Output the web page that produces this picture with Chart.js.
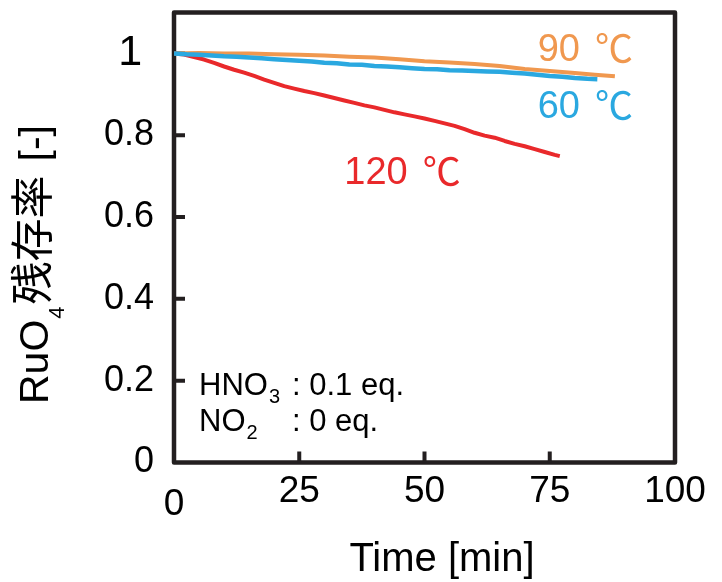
<!DOCTYPE html>
<html><head><meta charset="utf-8">
<script src="https://cdn.jsdelivr.net/npm/chart.js@4.4.0/dist/chart.umd.min.js"></script>
<style>html,body{margin:0;padding:0;background:#fff}</style>
</head><body>
<canvas id="c" width="722" height="582"></canvas>
<script>
// ---- data ----
const time120 = [0,2,4,6,8,10,12,14,16,18,20,22,24,26,28,30,32,34,36,38,40,42,44,46,48,50,52,54,56,58,60,62,64,66,68,70,72,74,76,77];
const ratio120 = [1.000,0.997,0.991,0.985,0.977,0.968,0.960,0.953,0.945,0.936,0.928,0.920,0.914,0.908,0.903,0.897,0.891,0.885,0.879,0.873,0.868,0.862,0.856,0.851,0.846,0.841,0.835,0.829,0.823,0.815,0.806,0.799,0.794,0.786,0.779,0.773,0.766,0.759,0.752,0.749];
const time90 = [0,5,10,15,20,25,30,35,40,45,50,55,60,65,70,75,80,84,88];
const ratio90 = [1.000,1.001,1.000,1.000,0.998,0.997,0.995,0.992,0.990,0.986,0.981,0.978,0.974,0.969,0.962,0.957,0.952,0.948,0.944];
const time60 = [0,2.5,5,7.5,10,12.5,15,17.5,20,22.5,25,27.5,30,32.5,35,37.5,40,42.5,45,47.5,50,52.5,55,57.5,60,62.5,65,67.5,70,72.5,75,77.5,80,82.5,84.5];
const ratio60 = [1.000,0.998,0.997,0.995,0.993,0.992,0.990,0.988,0.986,0.984,0.982,0.980,0.977,0.976,0.973,0.972,0.969,0.968,0.966,0.964,0.962,0.961,0.959,0.958,0.957,0.956,0.955,0.953,0.951,0.948,0.945,0.943,0.940,0.938,0.937];
const xTickValues = [0,25,50,75,100];
const yTickValues = [0,0.2,0.4,0.6,0.8,1];
const seriesNames = ['120','90','60'];
const unitText = '℃';
const xTitle = 'Time [min]';
const yTitleParts = ['RuO','4','残存率','[-]'];
const noteLines = [['HNO','3',': 0.1 eq.'],['NO','2',': 0 eq.']];
// ---- styles ----
const FONT = "'Liberation Sans', Arial, 'Noto Sans CJK JP', sans-serif";
const CJK = "'Noto Sans CJK JP', sans-serif";
const INK = '#231f20';
const RED = '#e9292b', ORANGE = '#f0984f', BLUE = '#2aa8e0';

function pts(xs, ys){ return xs.map((x,i)=>({x, y: ys[i]})); }

function tempLabel(ctx, name, color, px, py){
  ctx.fillStyle = color;
  ctx.font = `38px ${FONT}`;
  ctx.fillText(name, px, py);
  const w = ctx.measureText(name).width;
  ctx.font = `38px ${CJK}`;
  ctx.fillText(unitText, px + w + 15, py + 1);
}

const decor = {
  id: 'decor',
  beforeDatasetsDraw(chart){
    const {ctx, chartArea:a, scales:{x,y}} = chart;
    ctx.save();
    ctx.strokeStyle = INK; ctx.lineWidth = 4.5; ctx.lineJoin = 'round';
    ctx.strokeRect(a.left, a.top, a.right - a.left, a.bottom - a.top);
    ctx.lineWidth = 4;
    ctx.beginPath();
    yTickValues.forEach(v => { if (v > 0) { const p = y.getPixelForValue(v); ctx.moveTo(a.left, p); ctx.lineTo(a.left + 11, p); } });
    xTickValues.forEach(v => { if (v > 0 && v < 100) { const p = x.getPixelForValue(v); ctx.moveTo(p, a.bottom); ctx.lineTo(p, a.bottom - 11); } });
    ctx.stroke();
    ctx.restore();
  },
  afterDraw(chart){
    const {ctx, scales:{x,y}} = chart;
    ctx.save();
    ctx.textBaseline = 'alphabetic'; ctx.textAlign = 'left';
    // series labels
    tempLabel(ctx, seriesNames[1], ORANGE, x.getPixelForValue(72.6), y.getPixelForValue(0.982));
    tempLabel(ctx, seriesNames[2], BLUE, x.getPixelForValue(72.6), y.getPixelForValue(0.843));
    tempLabel(ctx, seriesNames[0], RED, x.getPixelForValue(34), y.getPixelForValue(0.680));
    // x axis title
    ctx.fillStyle = '#000';
    ctx.font = `40px ${FONT}`; ctx.textAlign = 'center';
    ctx.fillText(xTitle, 442, 571);
    ctx.textAlign = 'left';
    // note text
    const bases = [395, 431];
    noteLines.forEach((ln, i) => {
      let cx = 199;
      ctx.font = `31px ${FONT}`; ctx.fillText(ln[0], cx, bases[i]); cx += ctx.measureText(ln[0]).width;
      ctx.font = `20px ${FONT}`; ctx.fillText(ln[1], cx + 1, bases[i] + 8);
      ctx.font = `31px ${FONT}`; ctx.fillText(ln[2], 292, bases[i]);
    });
    // y axis title (rotated, with subscript)
    ctx.translate(48, 404);
    ctx.rotate(-Math.PI/2);
    let px = 0;
    ctx.font = `41px ${FONT}`; ctx.fillText(yTitleParts[0], px, 0); px += ctx.measureText(yTitleParts[0]).width;
    ctx.font = `22px ${FONT}`; ctx.fillText(yTitleParts[1], px + 1, 16); px += ctx.measureText(yTitleParts[1]).width + 3;
    ctx.font = `43px ${CJK}`; ctx.fillText(yTitleParts[2], px, 0); px += ctx.measureText(yTitleParts[2]).width + 14;
    ctx.font = `41px ${FONT}`; ctx.fillText(yTitleParts[3], px, 0);
    ctx.restore();
  }
};

new Chart(document.getElementById('c'), {
  type: 'line',
  data: {
    datasets: [
      {label: '60', data: pts(time60, ratio60), borderColor: BLUE, borderWidth: 4.5},
      {label: '90', data: pts(time90, ratio90), borderColor: ORANGE, borderWidth: 4},
      {label: '120', data: pts(time120, ratio120), borderColor: RED, borderWidth: 4}
    ]
  },
  options: {
    responsive: false,
    animation: false,
    devicePixelRatio: 1,
    elements: {point: {radius: 0}, line: {tension: 0, borderCapStyle: 'butt', borderJoinStyle: 'round'}},
    plugins: {legend: {display: false}, tooltip: {enabled: false}},
    layout: {padding: {left: 0, top: 12.5, right: 47, bottom: 0}},
    scales: {
      x: {
        type: 'linear', min: 0, max: 100,
        afterBuildTicks: s => { s.ticks = xTickValues.map(v => ({value: v})); },
        afterFit: s => { s.height = 119.5; s.paddingLeft = 0; s.paddingRight = 0; },
        grid: {display: false, drawTicks: false},
        border: {display: false},
        ticks: {
          autoSkip: false, maxRotation: 0, padding: 7, color: '#000',
          font: c => (c.tick && c.tick.value === 0) ? {family: FONT, size: 37, lineHeight: 1.93} : {family: FONT, size: 37, lineHeight: 1.2}
        },
        title: {display: false}
      },
      y: {
        type: 'linear', min: 0, max: 1.1,
        afterBuildTicks: s => { s.ticks = yTickValues.map(v => ({value: v})); },
        afterFit: s => { s.width = 174; s.paddingTop = 0; s.paddingBottom = 0; },
        grid: {display: false, drawTicks: false},
        border: {display: false},
        ticks: {
          autoSkip: false, padding: 20, color: '#000',
          callback: v => v === 1 ? '1 ' : String(v),
          font: c => (c.tick && c.tick.value === 1) ? {family: FONT, size: 43} : {family: FONT, size: 36}
        }
      }
    }
  },
  plugins: [decor]
});
</script>
</body></html>
